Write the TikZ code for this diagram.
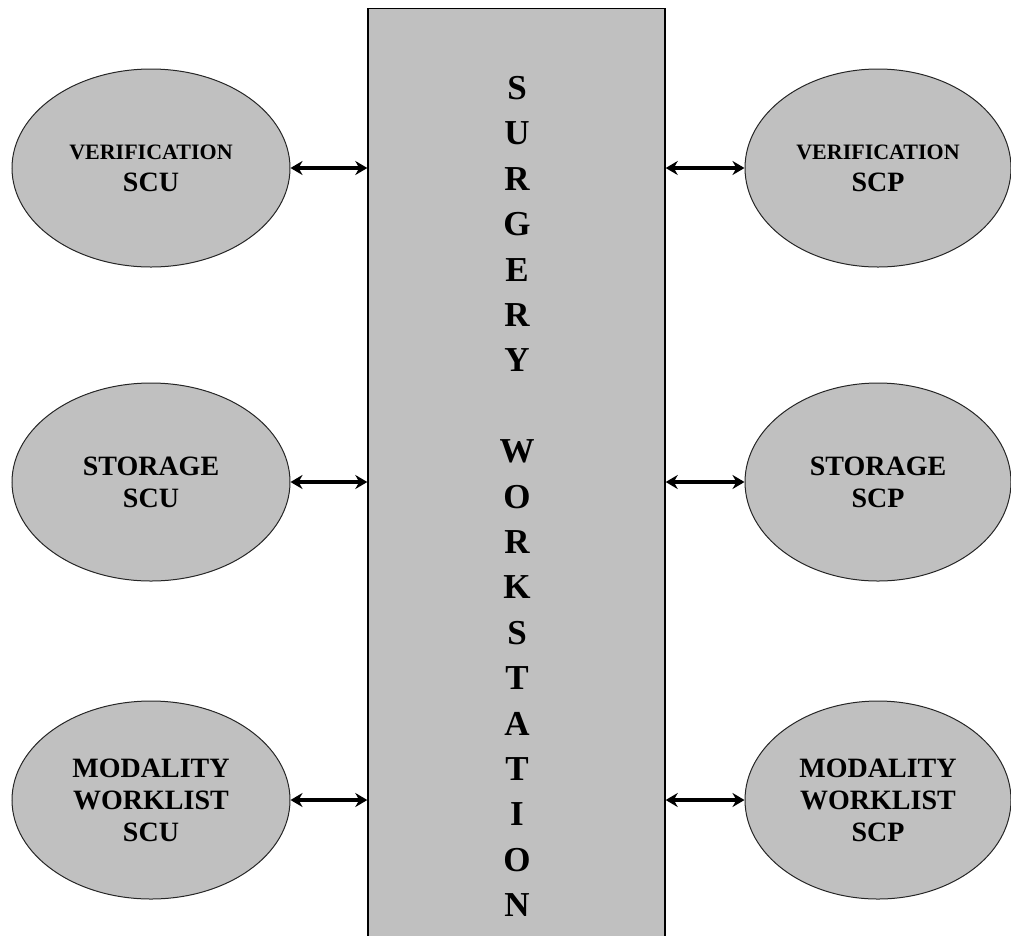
\documentclass[tikz,border=0pt]{standalone}
\usepackage{fontspec}
\setmainfont{Liberation Serif}
\usetikzlibrary{shapes.geometric}
\usetikzlibrary{arrows.meta}
\definecolor{silver}{HTML}{C0C0C0}
\tikzset{
  service/.style={ellipse, draw=black!85, line width=1pt, fill=silver,
    inner sep=0pt, minimum height=198pt, align=center,
    font=\bfseries\fontsize{28}{32}\selectfont},
  link/.style={<->, >={Stealth[length=12pt,width=14pt]}, line width=3.4pt},
  letter/.style={font=\bfseries\fontsize{35}{45}\selectfont, inner sep=0pt}
}
\begin{document}
\begin{tikzpicture}[x=1pt,y=-1pt]
    \useasboundingbox (0,0) rectangle (1011,935);
    \clip (0,0) rectangle (1011,935);

    % Surgery workstation block
    \node[draw, line width=1.4pt, fill=silver, minimum width=297pt,
      minimum height=960pt, anchor=north] (ws) at (516.5,8) {};
    \foreach \ch [count=\i] in {S,U,R,G,E,R,Y,{},W,O,R,K,S,T,A,T,I,O,N}
        \node[letter] (ws-\i) at (517,88+45.4*\i-45.4) {\ch};

    % SCU side
    \node[service, minimum width=278pt] (vscu) at (151,168)
      {{\fontsize{22}{32}\selectfont VERIFICATION}\\SCU};
    \node[service, minimum width=278pt] (sscu) at (151,482)
      {STORAGE\\SCU};
    \node[service, minimum width=278pt] (mscu) at (151,800)
      {MODALITY\\WORKLIST\\SCU};

    % SCP side
    \node[service, minimum width=266pt] (vscp) at (878,168)
      {{\fontsize{22}{32}\selectfont VERIFICATION}\\SCP};
    \node[service, minimum width=266pt] (sscp) at (878,482)
      {STORAGE\\SCP};
    \node[service, minimum width=266pt] (mscp) at (878,800)
      {MODALITY\\WORKLIST\\SCP};

    % links
    \draw[link] (vscu.east) -- (vscu.east -| ws.west);
    \draw[link] (sscu.east) -- (sscu.east -| ws.west);
    \draw[link] (mscu.east) -- (mscu.east -| ws.west);
    \draw[link] (vscp.west -| ws.east) -- (vscp.west);
    \draw[link] (sscp.west -| ws.east) -- (sscp.west);
    \draw[link] (mscp.west -| ws.east) -- (mscp.west);
\end{tikzpicture}
\end{document}
